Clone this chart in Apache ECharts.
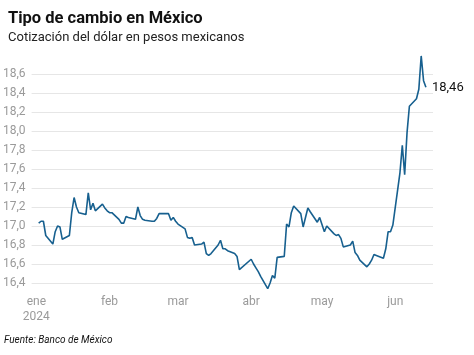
<!DOCTYPE html>
<html>
<head>
<meta charset="utf-8">
<script src="https://cdn.jsdelivr.net/npm/echarts@6/dist/echarts.min.js"></script>
<style>
html,body{margin:0;padding:0;background:#fff;}
#c{width:474px;height:355px;}
</style>
</head>
<body>
<div id="c"></div>
<script>
const dates = [
'2024-01-02','2024-01-03','2024-01-04','2024-01-05','2024-01-08','2024-01-09','2024-01-10','2024-01-11','2024-01-12',
'2024-01-15','2024-01-16','2024-01-17','2024-01-18','2024-01-19','2024-01-22','2024-01-23','2024-01-24','2024-01-25','2024-01-26',
'2024-01-29','2024-01-30','2024-01-31','2024-02-01','2024-02-02','2024-02-05','2024-02-06','2024-02-07','2024-02-08','2024-02-09',
'2024-02-12','2024-02-13','2024-02-14','2024-02-15','2024-02-16','2024-02-19','2024-02-20','2024-02-21','2024-02-22','2024-02-23',
'2024-02-26','2024-02-27','2024-02-28','2024-02-29','2024-03-01','2024-03-04','2024-03-05','2024-03-06','2024-03-07','2024-03-08',
'2024-03-11','2024-03-12','2024-03-13','2024-03-14','2024-03-15','2024-03-18','2024-03-19','2024-03-20','2024-03-21','2024-03-22',
'2024-03-25','2024-03-26','2024-03-27','2024-04-01','2024-04-02','2024-04-03','2024-04-04','2024-04-05',
'2024-04-08','2024-04-09','2024-04-10','2024-04-11','2024-04-12','2024-04-15','2024-04-16','2024-04-17','2024-04-18','2024-04-19',
'2024-04-22','2024-04-23','2024-04-24','2024-04-25','2024-04-26','2024-04-29','2024-04-30','2024-05-02','2024-05-03',
'2024-05-06','2024-05-07','2024-05-08','2024-05-09','2024-05-10','2024-05-13','2024-05-14','2024-05-15','2024-05-16','2024-05-17',
'2024-05-20','2024-05-21','2024-05-22','2024-05-23','2024-05-24','2024-05-27','2024-05-28','2024-05-29','2024-05-30','2024-05-31',
'2024-06-03','2024-06-04','2024-06-05','2024-06-06','2024-06-07','2024-06-10','2024-06-11','2024-06-12','2024-06-13','2024-06-14'
];
const rates = [
17.03,17.05,17.05,16.90,16.81,16.94,17.00,16.99,16.86,
16.90,17.14,17.30,17.20,17.14,17.12,17.35,17.17,17.24,17.16,
17.23,17.19,17.16,17.14,17.14,17.07,17.03,17.03,17.10,17.09,
17.07,17.20,17.11,17.07,17.06,17.05,17.05,17.08,17.13,17.13,
17.13,17.06,17.09,17.05,17.02,16.97,16.88,16.87,16.88,16.80,
16.81,16.83,16.71,16.69,16.71,16.80,16.85,16.76,16.76,16.74,
16.71,16.68,16.54,16.65,16.60,16.56,16.52,16.47,
16.34,16.40,16.48,16.45,16.67,16.68,17.02,16.99,17.14,17.21,
17.13,16.99,17.09,17.19,17.15,17.04,17.09,16.94,17.00,
16.92,16.90,16.91,16.87,16.78,16.80,16.84,16.72,16.69,16.64,
16.57,16.60,16.64,16.70,16.69,16.66,16.76,16.94,16.94,17.01,
17.56,17.85,17.54,17.98,18.26,18.34,18.44,18.79,18.53,18.46
];
const monthTicks = ['2024-01-01','2024-02-01','2024-03-01','2024-04-01','2024-05-01','2024-06-01'];
const monthLabels = ['ene','feb','mar','abr','may','jun'];
const yearLabel = '2024';
const yTicks = [16.4,16.6,16.8,17.0,17.2,17.4,17.6,17.8,18.0,18.2,18.4,18.6];
const lastLabel = '18,46';

function ts(s){ const p=s.split('-'); return Date.UTC(+p[0], +p[1]-1, +p[2]); }
const tickTs = monthTicks.map(ts);
const seriesData = dates.map((d,i)=>[ts(d), rates[i]]);

const chart = echarts.init(document.getElementById('c'), null, {renderer:'canvas'});
const FONT = 'Roboto';
chart.setOption({
  animation:false,
  textStyle:{fontFamily:FONT},
  title:{
    text:'Tipo de cambio en México',
    subtext:'Cotización del dólar en pesos mexicanos',
    left:3, top:5,
    itemGap:4,
    textStyle:{fontFamily:FONT, fontSize:16.5, fontWeight:'bold', color:'#111'},
    subtextStyle:{fontFamily:FONT, fontSize:13, color:'#222'}
  },
  graphic:[{
    type:'text', left:4, top:335,
    style:{text:'Fuente: Banco de México', font:'italic 10px Roboto', fill:'#111'}
  }],
  grid:{left:31, right:41, top:74, bottom:72, containLabel:false},
  xAxis:{
    type:'value',
    min:ts('2023-12-30'), max:ts('2024-06-17'),
    axisLine:{show:false}, axisTick:{show:false}, splitLine:{show:false},
    axisLabel:{
      customValues:tickTs,
      margin:11,
      color:'#9a9a9a', fontSize:12, fontFamily:FONT, lineHeight:15,
      formatter:function(v){
        let i = -1;
        for (let k=0;k<tickTs.length;k++){ if (Math.abs(tickTs[k]-v) < 3600000) i=k; }
        if (i<0) return '';
        return i===0 ? monthLabels[0]+'\n'+yearLabel : monthLabels[i];
      }
    }
  },
  yAxis:{
    type:'value', min:yTicks[0], max:yTicks[yTicks.length-1], interval:0.2,
    axisLine:{show:false}, axisTick:{show:false},
    splitLine:{lineStyle:{color:'#e6e6e6', width:1}},
    axisLabel:{
      margin:6, color:'#9a9a9a', fontSize:12, fontFamily:FONT,
      formatter:function(v){ return v.toFixed(1).replace('.',','); }
    }
  },
  series:[{
    type:'line', data:seriesData, showSymbol:false, clip:false,
    lineStyle:{color:'#17608f', width:1.6},
    itemStyle:{color:'#17608f'},
    endLabel:{show:true, formatter:lastLabel, color:'#111', fontSize:13, fontFamily:FONT, distance:6}
  }]
});
</script>
</body>
</html>
